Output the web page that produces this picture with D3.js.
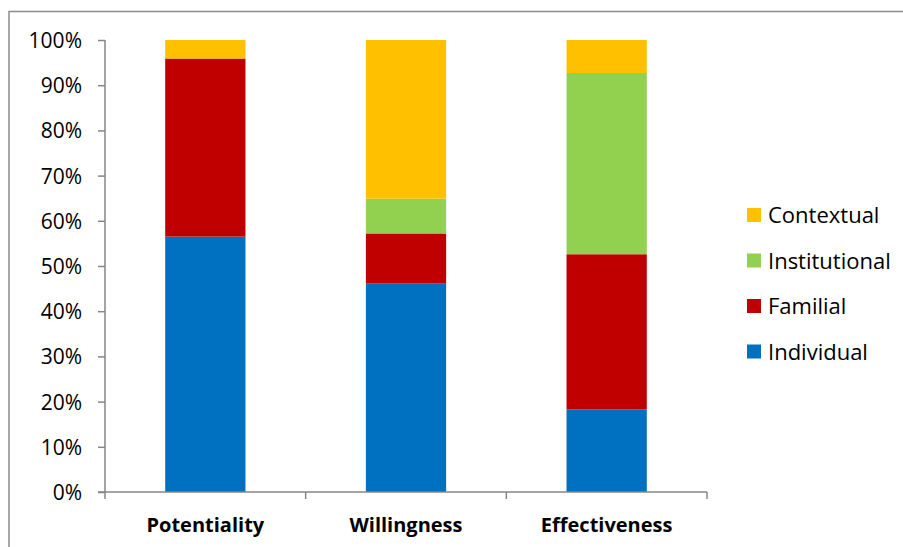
<!DOCTYPE html>
<html>
<head>
<meta charset="utf-8">
<script src="https://cdn.jsdelivr.net/npm/d3@7"></script>
<style>
  html, body { margin: 0; padding: 0; background: #fff; }
  svg { display: block; }
</style>
</head>
<body>
<svg id="chart" width="903" height="547"></svg>
<script>
// Stages of the process (x-axis categories)
const categories = ["Potentiality", "Willingness", "Effectiveness"];

// Share of each factor type per stage, in percent (stacked bottom to top)
const individual    = [56.5, 46.1, 18.3];
const familial      = [39.4, 11.1, 34.3];
const institutional = [0.0,   7.7, 40.1];
const contextual    = [4.1,  35.1,  7.3];

const seriesNames  = ["Individual", "Familial", "Institutional", "Contextual"];
const seriesColors = ["#0070C0", "#C00000", "#92D050", "#FFC000"];
const yTicks = [0, 10, 20, 30, 40, 50, 60, 70, 80, 90, 100];

const rows = categories.map((c, i) => ({
  category: c,
  Individual: individual[i],
  Familial: familial[i],
  Institutional: institutional[i],
  Contextual: contextual[i]
}));

const svg = d3.select("#chart");
const font = "'Open Sans', Lato, sans-serif";
const axisColor = "#868686";

// outer chart frame
svg.append("rect")
  .attr("x", 9).attr("y", 11.5)
  .attr("width", 920).attr("height", 560)
  .attr("fill", "none")
  .attr("stroke", "#8c8c8c")
  .attr("stroke-width", 1.5);

const plot = { left: 105, right: 707, top: 40, bottom: 492 };

const x = d3.scaleBand()
  .domain(categories)
  .range([plot.left, plot.right])
  .paddingInner(0.6)
  .paddingOuter(0.3);

const y = d3.scaleLinear()
  .domain([0, 100])
  .range([plot.bottom, plot.top]);

const stacked = d3.stack().keys(seriesNames)(rows);

// bars
svg.append("g")
  .selectAll("g")
  .data(stacked)
  .join("g")
  .attr("fill", (d, i) => seriesColors[i])
  .selectAll("rect")
  .data(d => d)
  .join("rect")
  .attr("x", d => x(d.data.category))
  .attr("width", x.bandwidth())
  .attr("y", d => y(d[1]))
  .attr("height", d => y(d[0]) - y(d[1]));

// y axis
const yAxis = svg.append("g")
  .attr("transform", `translate(${plot.left},0)`)
  .call(d3.axisLeft(y).tickValues(yTicks).tickFormat(d => d + "%").tickSize(7).tickPadding(16));
yAxis.select(".domain").attr("stroke", axisColor).attr("stroke-width", 1.5)
  .attr("d", `M-0,${plot.top}H0V${plot.bottom}`);
yAxis.selectAll(".tick line").attr("stroke", axisColor).attr("stroke-width", 1.5);
yAxis.selectAll(".tick text")
  .attr("fill", "#000")
  .attr("dy", "0.36em")
  .style("font-family", font)
  .style("font-size", "21px");

// x axis with tick marks at band boundaries
const xAxis = svg.append("g")
  .attr("transform", `translate(0,${plot.bottom})`);
xAxis.append("line")
  .attr("x1", plot.left - 7).attr("x2", plot.right)
  .attr("stroke", axisColor).attr("stroke-width", 1.5);
const step = x.step();
const boundaries = [plot.left].concat(categories.map(c => x(c) + x.bandwidth() / 2 + step / 2));
xAxis.selectAll("line.tk")
  .data(boundaries)
  .join("line")
  .attr("class", "tk")
  .attr("x1", d => d).attr("x2", d => d)
  .attr("y1", 0).attr("y2", 7)
  .attr("stroke", axisColor).attr("stroke-width", 1.5);
xAxis.selectAll("text")
  .data(categories)
  .join("text")
  .attr("x", d => x(d) + x.bandwidth() / 2)
  .attr("y", 40)
  .attr("text-anchor", "middle")
  .style("font-family", font)
  .style("font-weight", "bold")
  .style("font-size", "20px")
  .text(d => d);

// legend (top to bottom: Contextual ... Individual)
const legendOrder = seriesNames.slice().reverse();
const legend = svg.append("g");
const lg = legend.selectAll("g")
  .data(legendOrder)
  .join("g")
  .attr("transform", (d, i) => `translate(747,${215 + i * 45.5})`);
lg.append("rect")
  .attr("x", 0).attr("y", -7)
  .attr("width", 14).attr("height", 14)
  .attr("fill", d => seriesColors[seriesNames.indexOf(d)]);
lg.append("text")
  .attr("x", 21).attr("y", 8)
  .style("font-family", font)
  .style("font-size", "22px")
  .text(d => d);
</script>
</body>
</html>
